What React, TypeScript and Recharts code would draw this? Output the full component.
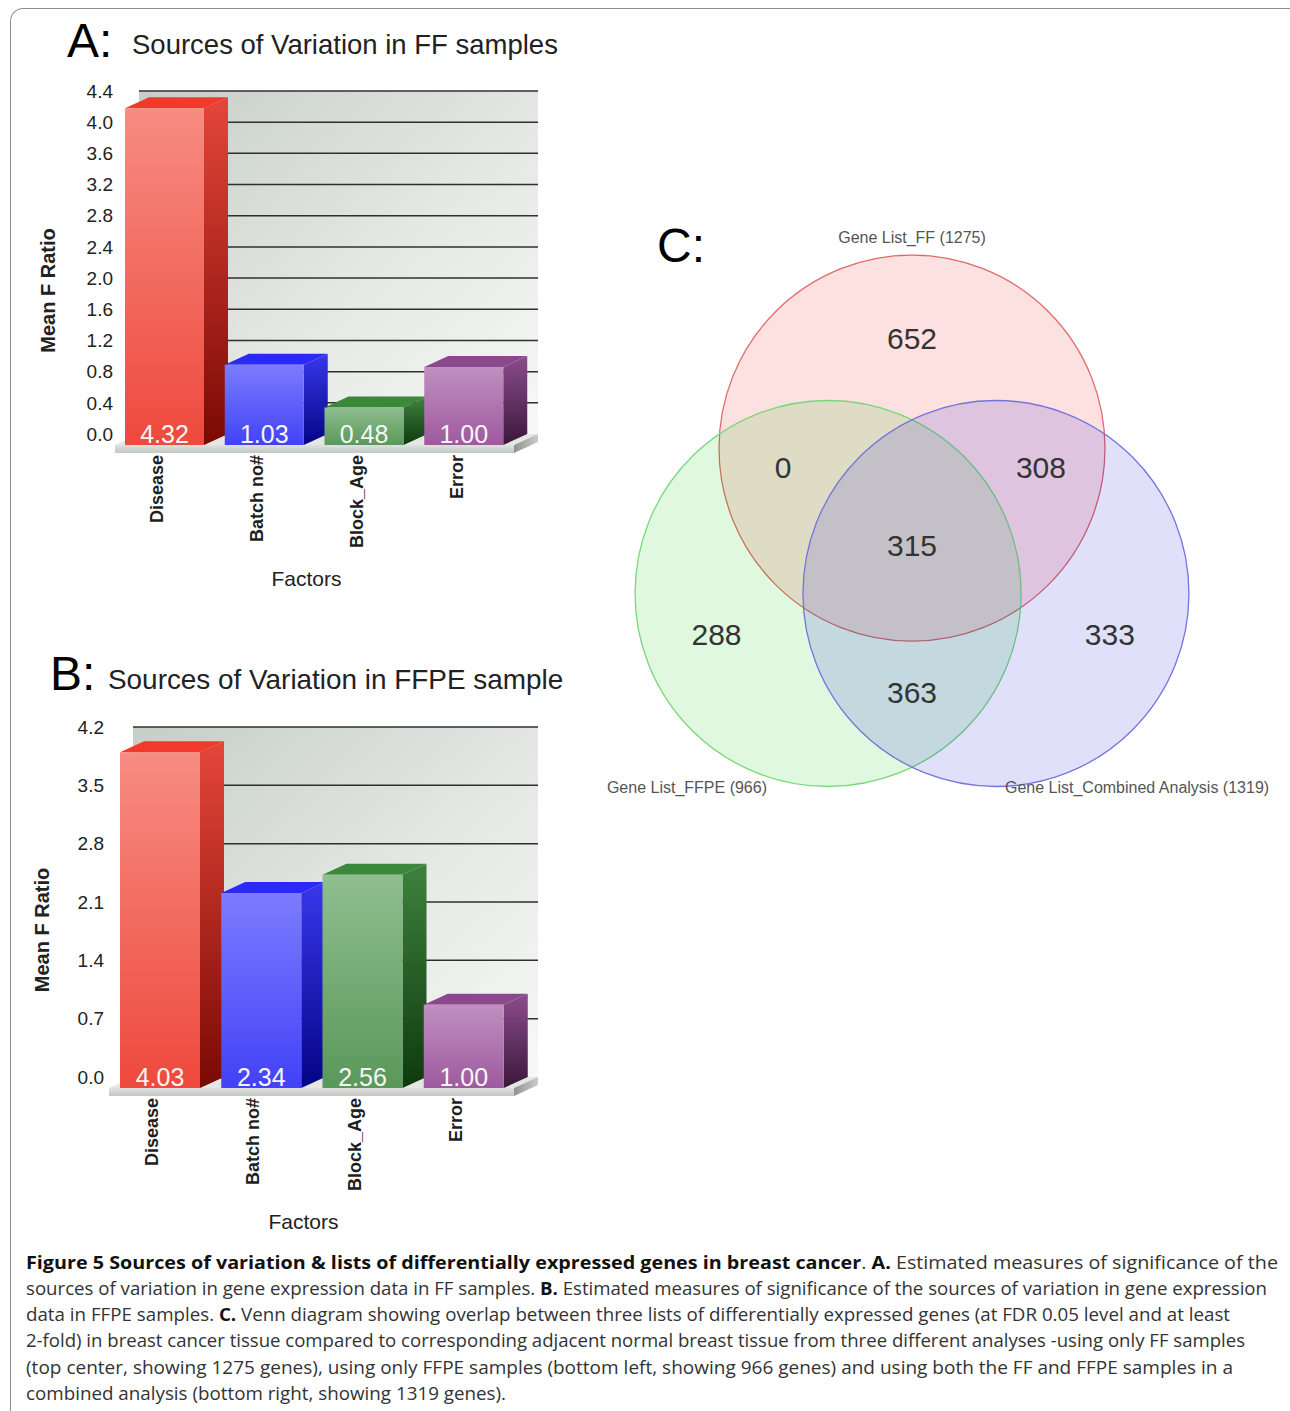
import React from 'react';
import { BarChart, Bar, XAxis, YAxis, CartesianGrid, ScatterChart, Scatter } from 'recharts';

const FONT = '"Liberation Sans", Arial, Helvetica, sans-serif';
const CAPTION_FONT = '"Open Sans", "Noto Sans", sans-serif';

// panels A and B
const factors = ['Disease', 'Batch no#', 'Block_Age', 'Error'];
const ffMeanF = [4.32, 1.03, 0.48, 1.0];
const ffpeMeanF = [4.03, 2.34, 2.56, 1.0];
const ffTicks = [0, 0.4, 0.8, 1.2, 1.6, 2.0, 2.4, 2.8, 3.2, 3.6, 4.0, 4.4];
const ffpeTicks = [0, 0.7, 1.4, 2.1, 2.8, 3.5, 4.2];

// panel C
const geneLists = ['Gene List_FF (1275)', 'Gene List_FFPE (966)', 'Gene List_Combined Analysis (1319)'];
// FF only, FF+FFPE, FF+Combined, all three, FFPE only, Combined only, FFPE+Combined
const regionCounts = [652, 0, 308, 315, 288, 333, 363];

// venn layout, in units of circle radius (y up)
const circleCenters = [[0, 0.753], [-0.435, 0], [0.435, 0]];
const countSpots = [
  [0, 1.32], [-0.668, 0.655], [0.668, 0.655], [0, 0.251],
  [-1.013, -0.215], [1.025, -0.215], [0, -0.515],
];
const listLabelSpots = [[0, 1.847], [-1.166, -1.007], [1.166, -1.007]];

const barColors = [
  { front: ['#f78c82', '#ee493d'], side: ['#e5463a', '#7a0904'], top: '#f23a2c' },
  { front: ['#7c7cff', '#4242f6'], side: ['#3838ec', '#040486'], top: '#2a2af4' },
  { front: ['#8fbe8f', '#5a985a'], side: ['#3e823e', '#0e3a0e'], top: '#3b883b' },
  { front: ['#c08fc0', '#9e5a9e'], side: ['#8c4c8c', '#3a183a'], top: '#8c488c' },
];

const vennStyles = [
  { fill: '#f00000', stroke: '#e06a6a' },
  { fill: '#00c800', stroke: '#78d878' },
  { fill: '#0000dc', stroke: '#7474dc' },
];

const captionLines: [string, boolean][][] = [
  [
    ['Figure 5 Sources of variation & lists of differentially expressed genes in breast cancer', true],
    ['. ', false],
    ['A.', true],
    [' Estimated measures of significance of the', false],
  ],
  [
    ['sources of variation in gene expression data in FF samples. ', false],
    ['B.', true],
    [' Estimated measures of significance of the sources of variation in gene expression', false],
  ],
  [
    ['data in FFPE samples. ', false],
    ['C.', true],
    [' Venn diagram showing overlap between three lists of differentially expressed genes (at FDR 0.05 level and at least', false],
  ],
  [['2-fold) in breast cancer tissue compared to corresponding adjacent normal breast tissue from three different analyses -using only FF samples', false]],
  [['(top center, showing 1275 genes), using only FFPE samples (bottom left, showing 966 genes) and using both the FF and FFPE samples in a', false]],
  [['combined analysis (bottom right, showing 1319 genes).', false]],
];
const captionWidths = [1252, 1241, 1204, 1219, 1207, 480];

// 3d depth of bars / floor
const DX = 24;
const DY = 11;

function Bar3D(props: any) {
  const { x, y, width, height, payload, chartId } = props;
  const i = factors.indexOf(payload.factor);
  const c = barColors[i % barColors.length];
  const fx = x - DX;
  const fy = y + DY;
  const fid = `${chartId}-front-${i}`;
  const sid = `${chartId}-side-${i}`;
  return (
    <g>
      <defs>
        <linearGradient id={fid} x1="0" y1="0" x2="0" y2="1">
          <stop offset="0" stopColor={c.front[0]} />
          <stop offset="1" stopColor={c.front[1]} />
        </linearGradient>
        <linearGradient id={sid} x1="0" y1="0" x2="0" y2="1">
          <stop offset="0" stopColor={c.side[0]} />
          <stop offset="1" stopColor={c.side[1]} />
        </linearGradient>
      </defs>
      <polygon
        points={`${fx},${fy} ${fx + width},${fy} ${x + width},${y} ${x},${y}`}
        fill={c.top}
      />
      <polygon
        points={`${fx + width},${fy} ${x + width},${y} ${x + width},${y + height} ${fx + width},${fy + height}`}
        fill={`url(#${sid})`}
      />
      <rect x={fx} y={fy} width={width} height={height} fill={`url(#${fid})`} />
      <text
        x={fx + width / 2}
        y={fy + height - 2}
        textAnchor="middle"
        fontSize={25}
        fill="#f6f6f6"
        fontFamily={FONT}
      >
        {payload.value.toFixed(2)}
      </text>
    </g>
  );
}

function Floor({ x1, x2, y }: { x1: number; x2: number; y: number }) {
  const w = x2 - x1;
  return (
    <g>
      <polygon points={`${x1 - DX},${y + DY} ${x1},${y} ${x2},${y} ${x2 - DX},${y + DY}`} fill="#e4e7e4" />
      <rect x={x1 - DX} y={y + DY} width={w} height={8} fill="url(#floorFront)" />
      <polygon
        points={`${x2 - DX},${y + DY} ${x2},${y} ${x2},${y + 8} ${x2 - DX},${y + DY + 8}`}
        fill="url(#floorSide)"
      />
    </g>
  );
}

function FactorTick(props: any) {
  const { x, y, payload } = props;
  const tx = x - DX - 1.5;
  const ty = y + 21;
  return (
    <text
      x={tx}
      y={ty}
      transform={`rotate(-90 ${tx} ${ty})`}
      textAnchor="end"
      fontSize={18}
      fontWeight="bold"
      fill="#1e1e1e"
      fontFamily={FONT}
    >
      {payload.value}
    </text>
  );
}

interface PanelProps {
  id: string;
  values: number[];
  ticks: number[];
  marginTop: number;
  xAxisHeight: number;
  yAxisWidth: number;
  tickGap: number;
}

const CHART_W = 600;
const CHART_H = 560;

function FactorPanel({ id, values, ticks, marginTop, xAxisHeight, yAxisWidth, tickGap }: PanelProps) {
  const data = factors.map((factor, i) => ({ factor, value: values[i] }));
  const plotBottom = CHART_H - xAxisHeight;
  const band = (CHART_W - 20 - yAxisWidth - 62) / factors.length;
  const barSize = Math.round(band * 0.795);

  const gridLine = (p: any) => {
    if (Math.abs(p.y1 - plotBottom) < 1) {
      return <Floor key={`floor-${id}`} x1={p.x1} x2={p.x2} y={p.y1} />;
    }
    return (
      <line
        key={`gl-${id}-${p.index}`}
        x1={p.x1}
        x2={p.x2}
        y1={p.y1}
        y2={p.y2}
        stroke="#2f2f2f"
        strokeWidth={1.5}
      />
    );
  };

  const yTitle = (p: any) => {
    const vb = p.viewBox;
    const bx = vb.x + vb.width - 84;
    const by = vb.y + vb.height / 2 + 28;
    return (
      <text
        x={bx}
        y={by}
        transform={`rotate(-90 ${bx} ${by})`}
        textAnchor="middle"
        fontSize={20}
        fontWeight="bold"
        fill="#222"
        fontFamily={FONT}
      >
        Mean F Ratio
      </text>
    );
  };

  const xTitle = (p: any) => {
    const vb = p.viewBox;
    return (
      <text
        x={vb.x + vb.width / 2 - 32}
        y={vb.y + 152}
        textAnchor="middle"
        fontSize={21}
        fill="#222"
        fontFamily={FONT}
      >
        Factors
      </text>
    );
  };

  return (
    <BarChart
      width={CHART_W}
      height={CHART_H}
      data={data}
      margin={{ top: marginTop, right: 62, bottom: 0, left: 20 }}
    >
      <CartesianGrid vertical={false} fill="url(#wallGrad)" horizontal={gridLine} />
      <XAxis
        dataKey="factor"
        interval={0}
        tickLine={false}
        axisLine={false}
        tickSize={0}
        tickMargin={0}
        height={xAxisHeight}
        tick={(p: any) => <FactorTick {...p} />}
        label={xTitle}
      />
      <YAxis
        type="number"
        domain={[0, ticks[ticks.length - 1]]}
        ticks={ticks}
        interval={0}
        width={yAxisWidth}
        tickLine={false}
        axisLine={false}
        tickSize={0}
        tickMargin={tickGap}
        tickFormatter={(v: number) => v.toFixed(1)}
        tick={{ fontSize: 19, fill: '#222', fontFamily: FONT }}
        label={yTitle}
      />
      <Bar
        dataKey="value"
        barSize={barSize}
        isAnimationActive={false}
        shape={(p: any) => <Bar3D {...p} chartId={id} />}
      />
    </BarChart>
  );
}

// venn chart box
const VENN_W = 690;
const VENN_H = 600;
const VENN_PX = 193; // px per radius
const VENN_OX = 312;
const VENN_OY = 373.5;
const X_DOMAIN = [-VENN_OX / VENN_PX, (VENN_W - VENN_OX) / VENN_PX];
const Y_DOMAIN = [-(VENN_H - VENN_OY) / VENN_PX, VENN_OY / VENN_PX];

function VennCircle(p: any) {
  const s = vennStyles[p.payload.set];
  const r = VENN_W / (X_DOMAIN[1] - X_DOMAIN[0]);
  return (
    <circle
      cx={p.cx}
      cy={p.cy}
      r={r}
      fill={s.fill}
      fillOpacity={0.12}
      stroke={s.stroke}
      strokeWidth={1.3}
    />
  );
}

function CountText(p: any) {
  return (
    <text
      x={p.cx}
      y={p.cy}
      textAnchor="middle"
      dominantBaseline="central"
      fontSize={30}
      fill="#333"
      fontFamily={FONT}
    >
      {p.payload.count}
    </text>
  );
}

function ListLabel(p: any) {
  return (
    <text
      x={p.cx}
      y={p.cy}
      textAnchor="middle"
      dominantBaseline="central"
      fontSize={16}
      fill="#555"
      fontFamily={FONT}
    >
      {p.payload.name}
    </text>
  );
}

function VennPanel() {
  const circles = geneLists.map((name, i) => ({ x: circleCenters[i][0], y: circleCenters[i][1], set: i, name }));
  const counts = regionCounts.map((count, i) => ({ x: countSpots[i][0], y: countSpots[i][1], count }));
  const labels = geneLists.map((name, i) => ({ x: listLabelSpots[i][0], y: listLabelSpots[i][1], name }));
  return (
    <ScatterChart width={VENN_W} height={VENN_H} margin={{ top: 0, right: 0, bottom: 0, left: 0 }}>
      <XAxis type="number" dataKey="x" domain={X_DOMAIN} hide allowDataOverflow />
      <YAxis type="number" dataKey="y" domain={Y_DOMAIN} hide allowDataOverflow />
      <Scatter data={circles} shape={VennCircle} isAnimationActive={false} />
      <Scatter data={counts} shape={CountText} isAnimationActive={false} />
      <Scatter data={labels} shape={ListLabel} isAnimationActive={false} />
    </ScatterChart>
  );
}

export default function App() {
  return (
    <div
      style={{
        position: 'absolute',
        left: 0,
        top: 0,
        width: 1290,
        height: 1411,
        overflow: 'hidden',
        background: '#fff',
      }}
    >
      <svg width={0} height={0} style={{ position: 'absolute' }}>
        <defs>
          <linearGradient id="wallGrad" x1="0" y1="0" x2="1" y2="1">
            <stop offset="0" stopColor="#c6cec6" />
            <stop offset="0.55" stopColor="#e5e8e5" />
            <stop offset="1" stopColor="#f7f8f7" />
          </linearGradient>
          <linearGradient id="floorFront" x1="0" y1="0" x2="0" y2="1">
            <stop offset="0" stopColor="#dfe2df" />
            <stop offset="1" stopColor="#c2c7c2" />
          </linearGradient>
          <linearGradient id="floorSide" x1="0" y1="0" x2="1" y2="0">
            <stop offset="0" stopColor="#8e948e" />
            <stop offset="1" stopColor="#c9cdc9" />
          </linearGradient>
        </defs>
      </svg>

      <div
        style={{
          position: 'absolute',
          left: 10,
          top: 8,
          width: 1400,
          height: 1500,
          borderTop: '1px solid #8c8c8c',
          borderLeft: '1px solid #8c8c8c',
          borderTopLeftRadius: 13,
        }}
      />

      <svg width={1290} height={1411} style={{ position: 'absolute', left: 0, top: 0 }}>
        <text x={67} y={57} fontSize={48} fill="#000" fontFamily={FONT}>A:</text>
        <text x={132} y={54} fontSize={27.5} fill="#222" fontFamily={FONT}>Sources of Variation in FF samples</text>
        <text x={50} y={690} fontSize={48} fill="#000" fontFamily={FONT}>B:</text>
        <text x={108} y={689} fontSize={27.9} fill="#222" fontFamily={FONT}>Sources of Variation in FFPE sample</text>
        <text x={657} y={262} fontSize={48} fill="#000" fontFamily={FONT}>C:</text>

        {captionLines.map((segs, li) => (
          <text
            key={li}
            x={26}
            y={1268.5 + li * 26.3}
            textLength={captionWidths[li]}
            lengthAdjust="spacingAndGlyphs"
            fontSize={18}
            fontFamily={CAPTION_FONT}
            fill="#333"
          >
            {segs.map(([t, b], si) => (
              <tspan key={si} fontWeight={b ? 'bold' : 'normal'} fill={b ? '#111' : '#333'}>
                {t}
              </tspan>
            ))}
          </text>
        ))}
      </svg>

      <div style={{ position: 'absolute', left: 0, top: 60 }}>
        <FactorPanel
          id="ff"
          values={ffMeanF}
          ticks={ffTicks}
          marginTop={31}
          xAxisHeight={186}
          yAxisWidth={119}
          tickGap={26}
        />
      </div>

      <div style={{ position: 'absolute', left: 0, top: 700 }}>
        <FactorPanel
          id="ffpe"
          values={ffpeMeanF}
          ticks={ffpeTicks}
          marginTop={27}
          xAxisHeight={183}
          yAxisWidth={113}
          tickGap={29}
        />
      </div>

      <div style={{ position: 'absolute', left: 600, top: 220 }}>
        <VennPanel />
      </div>
    </div>
  );
}
